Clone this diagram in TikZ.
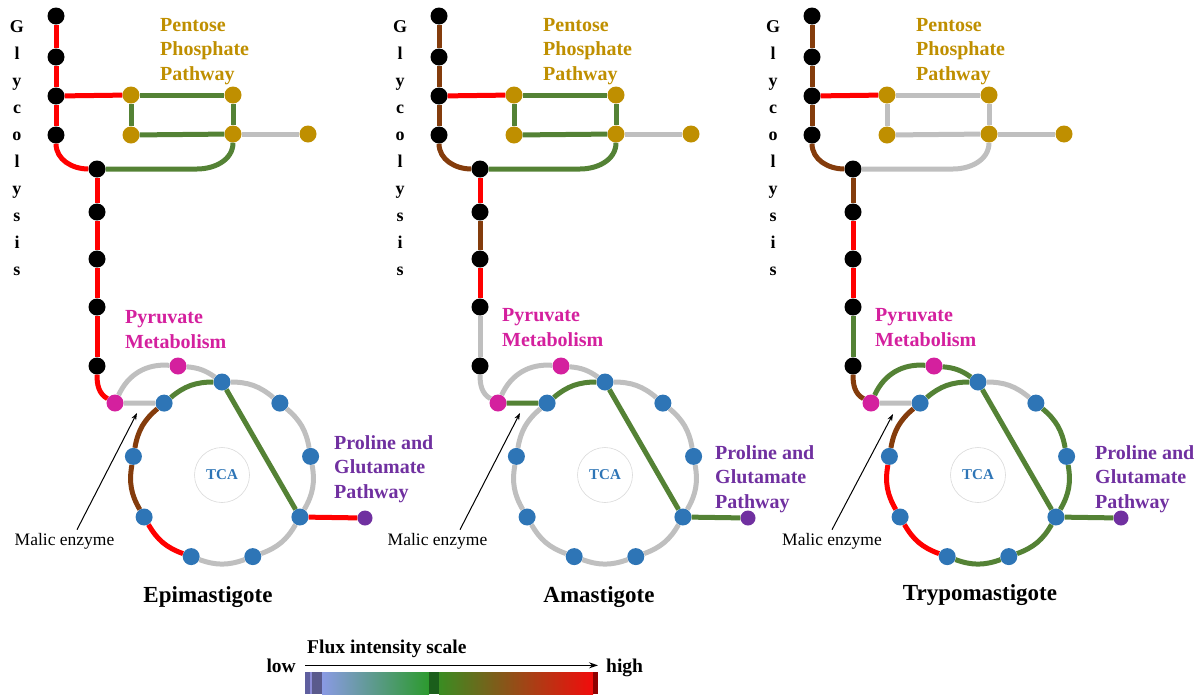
\documentclass[tikz,border=0pt]{standalone}
\usepackage{fontspec}
\setmainfont{Liberation Serif}
\usetikzlibrary{arrows.meta}

\definecolor{fluxred}{HTML}{FF0000}
\definecolor{fluxbrown}{HTML}{843C0C}
\definecolor{fluxgreen}{HTML}{548235}
\definecolor{fluxgrey}{HTML}{BFBFBF}
\definecolor{pppgold}{HTML}{BF8F00}
\definecolor{pyrpink}{HTML}{D4209E}
\definecolor{tcablue}{HTML}{2E75B6}
\definecolor{propurple}{HTML}{7030A0}
\definecolor{ringgrey}{HTML}{D9D9D9}

\newcommand{\stagedots}[1]{%
\node[dot,fill=black] (#1g1) at (56,-16) {};
\node[dot,fill=black] (#1g2) at (56,-57) {};
\node[dot,fill=black] (#1g3) at (56,-96) {};
\node[dot,fill=black] (#1g4) at (56,-135) {};
\node[dot,fill=black] (#1g5) at (97,-169) {};
\node[dot,fill=black] (#1g6) at (97,-212) {};
\node[dot,fill=black] (#1g7) at (97,-259) {};
\node[dot,fill=black] (#1g8) at (97,-307) {};
\node[dot,fill=black] (#1g9) at (97,-366) {};
\node[dot,fill=pppgold] (#1q1) at (131,-95) {};
\node[dot,fill=pppgold] (#1q2) at (233,-95) {};
\node[dot,fill=pppgold] (#1q3) at (131,-135) {};
\node[dot,fill=pppgold] (#1q4) at (233,-134) {};
\node[dot,fill=pppgold] (#1q5) at (308,-134) {};
\node[dot,fill=pyrpink] (#1p1) at (115,-403) {};
\node[dot,fill=pyrpink] (#1p2) at (178,-366) {};
\node[dot,fill=tcablue] (#1c0) at (222,-382) {};
\node[dot,fill=tcablue] (#1c1) at (279.9,-403.1) {};
\node[dot,fill=tcablue] (#1c2) at (310.6,-456.4) {};
\node[dot,fill=tcablue] (#1c3) at (299.9,-517) {};
\node[dot,fill=tcablue] (#1c4) at (252.8,-556.6) {};
\node[dot,fill=tcablue] (#1c5) at (191.2,-556.6) {};
\node[dot,fill=tcablue] (#1c6) at (144.1,-517) {};
\node[dot,fill=tcablue] (#1c7) at (133.4,-456.4) {};
\node[dot,fill=tcablue] (#1c8) at (164.1,-403.1) {};
\node[dot,fill=propurple,minimum size=15pt] (#1pu) at (365,-518) {};
\node[tcaring] (#1tca) at (222,-475) {TCA};
\node[lbl,text=pppgold] (#1ppp) at (160,-80) {Pentose\\Phosphate\\Pathway};
\foreach \ch [count=\n] in {G,l,y,c,o,l,y,s,i,s}
  \node[gly] (#1y\n) at (17,{-32-27.1*(\n-1)}) {\ch};
}

\begin{document}
\begin{tikzpicture}[x=1pt,y=1pt,
  dot/.style={circle,inner sep=0pt,minimum size=17pt},
  fred/.style={line width=5pt,fluxred},
  fbrown/.style={line width=5pt,fluxbrown},
  fgreen/.style={line width=5pt,fluxgreen},
  fgrey/.style={line width=5pt,fluxgrey},
  lbl/.style={font=\fontsize{20}{24.5}\selectfont\bfseries,align=left,inner sep=0pt,anchor=base west},
  gly/.style={font=\fontsize{18}{20}\selectfont\bfseries,inner sep=0pt,anchor=base},
  tcaring/.style={circle,draw=ringgrey,line width=0.6pt,minimum size=55pt,inner sep=0pt,text=tcablue,font=\fontsize{15}{18}\selectfont\bfseries},
  malic/.style={font=\fontsize{17.5}{20}\selectfont,inner sep=3pt,anchor=base},
  stage/.style={font=\fontsize{23}{26}\selectfont\bfseries,inner sep=0pt,anchor=base},
  scaletxt/.style={font=\fontsize{19.5}{22}\selectfont\bfseries,inner sep=0pt},
  ptr/.style={-{Stealth[length=7pt,width=5pt]},line width=1pt}]
\useasboundingbox (0,0) rectangle (1201,-694);

\begin{scope}
\stagedots{e}
\node[lbl,text=pyrpink] (epyr) at (125,-348) {Pyruvate\\Metabolism};
\node[lbl,text=propurple] (epro) at (334,-498) {Proline and\\Glutamate\\Pathway};
\node[malic] (emal) at (64.5,-545) {Malic enzyme};
\coordinate (etip) at (137,-413);
\draw[ptr] ([xshift=12.5pt]emal.north) -- (etip);
\node[stage] (ename) at (208,-602) {Epimastigote};
\draw[fred] (eg1)--(eg2); \draw[fred] (eg2)--(eg3); \draw[fred] (eg3)--(eg4);
\draw[fred] (eg4) to[out=-90,in=180] (eg5);
\draw[fred] (eg5)--(eg6); \draw[fred] (eg6)--(eg7); \draw[fred] (eg7)--(eg8); \draw[fred] (eg8)--(eg9);
\draw[fred] (eg9) to[out=-90,in=150] (ep1);
\draw[fred] (eg3)--(eq1);
\draw[fgreen] (eq1)--(eq2); \draw[fgreen] (eq1)--(eq3); \draw[fgreen] (eq2)--(eq4); \draw[fgreen] (eq3)--(eq4);
\draw[fgrey] (eq4)--(eq5);
\draw[fgreen] (eg5) -- ++(100,0) to[out=0,in=-90] (eq4);
\draw[fgrey] (ep1) to[bend left=35] (ep2); \draw[fgrey] (ep2) to[bend left=15] (ec0);
\draw[fgrey] (ep1)--(ec8);
\draw[fgreen] (ec8) to[bend left=20] (ec0);
\draw[fgrey] (ec0) to[bend left=20] (ec1); \draw[fgrey] (ec1) to[bend left=20] (ec2);
\draw[fgrey] (ec2) to[bend left=20] (ec3); \draw[fgrey] (ec3) to[bend left=20] (ec4);
\draw[fgrey] (ec4) to[bend left=20] (ec5); \draw[fred] (ec5) to[bend left=20] (ec6);
\draw[fbrown] (ec6) to[bend left=20] (ec7); \draw[fbrown] (ec7) to[bend left=20] (ec8);
\draw[fgreen] (ec0)--(ec3);
\draw[fred] (ec3)--(epu);
\end{scope}

\begin{scope}[xshift=383pt]
\stagedots{a}
\node[lbl,text=pyrpink] (apyr) at (119,-346) {Pyruvate\\Metabolism};
\node[lbl,text=propurple] (apro) at (332,-508) {Proline and\\Glutamate\\Pathway};
\node[malic] (amal) at (54.5,-545) {Malic enzyme};
\coordinate (atip) at (137,-413);
\draw[ptr] ([xshift=22.5pt]amal.north) -- (atip);
\node[stage] (aname) at (216,-602) {Amastigote};
\draw[fbrown] (ag1)--(ag2); \draw[fbrown] (ag2)--(ag3); \draw[fbrown] (ag3)--(ag4);
\draw[fbrown] (ag4) to[out=-90,in=180] (ag5);
\draw[fred] (ag5)--(ag6); \draw[fbrown] (ag6)--(ag7); \draw[fred] (ag7)--(ag8); \draw[fgrey] (ag8)--(ag9);
\draw[fgrey] (ag9) to[out=-90,in=150] (ap1);
\draw[fred] (ag3)--(aq1);
\draw[fgreen] (aq1)--(aq2); \draw[fgreen] (aq1)--(aq3); \draw[fgreen] (aq2)--(aq4); \draw[fgreen] (aq3)--(aq4);
\draw[fgrey] (aq4)--(aq5);
\draw[fgreen] (ag5) -- ++(100,0) to[out=0,in=-90] (aq4);
\draw[fgrey] (ap1) to[bend left=35] (ap2); \draw[fgrey] (ap2) to[bend left=15] (ac0);
\draw[fgreen] (ap1)--(ac8);
\draw[fgreen] (ac8) to[bend left=20] (ac0);
\draw[fgrey] (ac0) to[bend left=20] (ac1); \draw[fgrey] (ac1) to[bend left=20] (ac2);
\draw[fgrey] (ac2) to[bend left=20] (ac3); \draw[fgrey] (ac3) to[bend left=20] (ac4);
\draw[fgrey] (ac4) to[bend left=20] (ac5); \draw[fgrey] (ac5) to[bend left=20] (ac6);
\draw[fgrey] (ac6) to[bend left=20] (ac7); \draw[fgrey] (ac7) to[bend left=20] (ac8);
\draw[fgreen] (ac0)--(ac3);
\draw[fgreen] (ac3)--(apu);
\end{scope}

\begin{scope}[xshift=756pt]
\stagedots{t}
\node[lbl,text=pyrpink] (tpyr) at (119,-346) {Pyruvate\\Metabolism};
\node[lbl,text=propurple] (tpro) at (339,-508) {Proline and\\Glutamate\\Pathway};
\node[malic] (tmal) at (76,-545) {Malic enzyme};
\coordinate (ttip) at (137,-414);
\draw[ptr] (tmal.north) -- (ttip);
\node[stage] (tname) at (224,-600) {Trypomastigote};
\draw[fbrown] (tg1)--(tg2); \draw[fbrown] (tg2)--(tg3); \draw[fbrown] (tg3)--(tg4);
\draw[fbrown] (tg4) to[out=-90,in=180] (tg5);
\draw[fbrown] (tg5)--(tg6); \draw[fred] (tg6)--(tg7); \draw[fred] (tg7)--(tg8); \draw[fgreen] (tg8)--(tg9);
\draw[fbrown] (tg9) to[out=-90,in=150] (tp1);
\draw[fred] (tg3)--(tq1);
\draw[fgrey] (tq1)--(tq2); \draw[fgrey] (tq1)--(tq3); \draw[fgrey] (tq2)--(tq4); \draw[fgrey] (tq3)--(tq4);
\draw[fgrey] (tq4)--(tq5);
\draw[fgrey] (tg5) -- ++(100,0) to[out=0,in=-90] (tq4);
\draw[fgreen] (tp1) to[bend left=35] (tp2); \draw[fgreen] (tp2) to[bend left=15] (tc0);
\draw[fgrey] (tp1)--(tc8);
\draw[fgreen] (tc8) to[bend left=20] (tc0);
\draw[fgrey] (tc0) to[bend left=20] (tc1); \draw[fgreen] (tc1) to[bend left=20] (tc2);
\draw[fgreen] (tc2) to[bend left=20] (tc3); \draw[fgreen] (tc3) to[bend left=20] (tc4);
\draw[fgreen] (tc4) to[bend left=20] (tc5); \draw[fred] (tc5) to[bend left=20] (tc6);
\draw[fred] (tc6) to[bend left=20] (tc7); \draw[fbrown] (tc7) to[bend left=20] (tc8);
\draw[fgreen] (tc0)--(tc3);
\draw[fgreen] (tc3)--(tpu);
\end{scope}

\node[scaletxt,anchor=base east] (low) at (296,-672) {low};
\node[scaletxt,anchor=base west] (high) at (606,-672) {high};
\node[scaletxt,anchor=base west] (fluxname) at (307,-653) {Flux intensity scale};
\draw[-{Stealth[length=9pt,width=6pt]},line width=1.6pt,shorten <=9pt,shorten >=8pt] (low.east) -- (low.east -| high.west);
\fill[color={rgb,255:red,95;green,95;blue,159}] (305,-672) rectangle (310,-694);
\fill[color={rgb,255:red,140;green,140;blue,216}] (310,-672) rectangle (311.5,-694);
\fill[color={rgb,255:red,90;green,90;blue,140}] (311.5,-672) rectangle (322,-694);
\shade[left color={rgb,255:red,138;green,154;blue,228},middle color={rgb,255:red,100;green,152;blue,140},right color={rgb,255:red,44;green,154;blue,46}] (322,-672) rectangle (429,-694);
\fill[color={rgb,255:red,27;green,94;blue,27}] (429,-672) rectangle (439,-694);
\shade[left color={rgb,255:red,58;green,140;blue,34},middle color={rgb,255:red,154;green,82;blue,24},right color={rgb,255:red,242;green,12;blue,12}] (439,-672) rectangle (593,-694);
\fill[color={rgb,255:red,142;green,0;blue,0}] (593,-672) rectangle (598,-694);
\end{tikzpicture}
\end{document}
